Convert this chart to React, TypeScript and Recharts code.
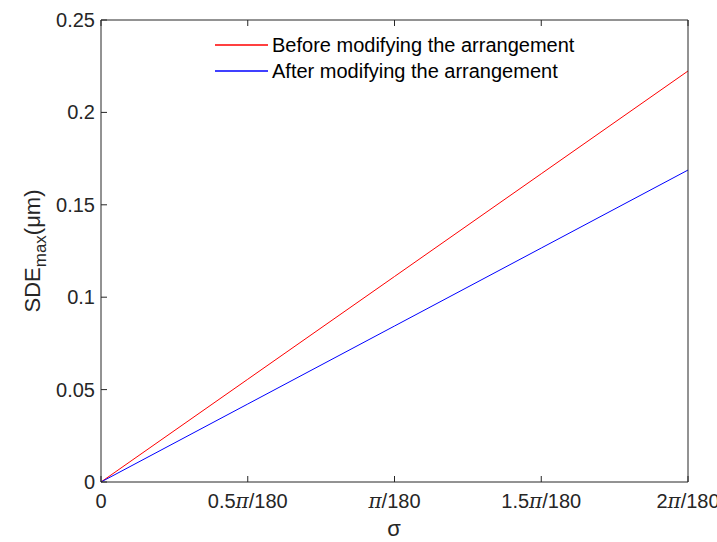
import { LineChart, Line, XAxis, YAxis } from 'recharts';

// sigma in units of pi/180
const sigma = [0, 0.5, 1, 1.5, 2];
const before = [0, 0.0556, 0.1112, 0.1668, 0.2224];
const after = [0, 0.0422, 0.0844, 0.1266, 0.1688];
const xTicks = [0, 0.5, 1, 1.5, 2];
const xTickLabels = ['0', '0.5π/180', 'π/180', '1.5π/180', '2π/180'];
const yTicks = [0, 0.05, 0.1, 0.15, 0.2, 0.25];
const yTickLabels = ['0', '0.05', '0.1', '0.15', '0.2', '0.25'];
const seriesNames = ['Before modifying the arrangement', 'After modifying the arrangement'];
const seriesColors = ['#ff0000', '#0000ff'];

const data = sigma.map((s, i) => ({ s, before: before[i], after: after[i] }));

const FONT = '"Liberation Sans", Arial, sans-serif';
const TICK = 6;

const splitPi = (label: string) => {
  const i = label.indexOf('π');
  if (i < 0) return <tspan>{label}</tspan>;
  return (
    <>
      <tspan>{label.slice(0, i)}</tspan>
      <tspan fontFamily='"DejaVu Serif", serif' fontStyle="italic">π</tspan>
      <tspan>{label.slice(i + 1)}</tspan>
    </>
  );
};

const BottomTick = (props: any) => {
  const { x, y, payload } = props;
  const idx = xTicks.indexOf(payload.value);
  return (
    <g>
      <line x1={x} y1={y} x2={x} y2={y - TICK} stroke="#262626" />
      <text x={x} y={y + 26} textAnchor="middle" fontSize={20} fontFamily={FONT} fill="#262626">
        {splitPi(xTickLabels[idx] ?? '')}
      </text>
    </g>
  );
};

const TopTick = (props: any) => {
  const { x, y } = props;
  return <line x1={x} y1={y} x2={x} y2={y + TICK} stroke="#262626" />;
};

const LeftTick = (props: any) => {
  const { x, y, payload } = props;
  const idx = yTicks.findIndex((t) => Math.abs(t - payload.value) < 1e-9);
  return (
    <g>
      <line x1={x} y1={y} x2={x + TICK} y2={y} stroke="#262626" />
      <text x={x - 6} y={y + 7} textAnchor="end" fontSize={20} fontFamily={FONT} fill="#262626">
        {yTickLabels[idx]}
      </text>
    </g>
  );
};

const RightTick = (props: any) => {
  const { x, y } = props;
  return <line x1={x} y1={y} x2={x - TICK} y2={y} stroke="#262626" />;
};

// legend drawn in the chart svg, MATLAB style (no box)
const LegendSvg = () => (
  <g className="legend">
    {seriesNames.map((name, i) => {
      const cy = 45 + i * 26;
      return (
        <g key={name}>
          <line x1={215} y1={cy} x2={268} y2={cy} stroke={seriesColors[i]} strokeWidth={1.3} />
          <text x={272} y={cy + 7} fontSize={20} fontFamily={FONT} fill="#000">
            {name}
          </text>
        </g>
      );
    })}
  </g>
);

const App = () => (
  <div style={{ position: 'absolute', left: 0, top: 0, background: '#fff' }}>
    <LineChart width={717} height={542} data={data} margin={{ top: 0, right: 0, bottom: 0, left: 0 }}>
      <XAxis
        dataKey="s"
        type="number"
        domain={[0, 2]}
        ticks={xTicks}
        height={60}
        tickSize={0}
        tickMargin={0}
        tickLine={false}
        axisLine={{ stroke: '#262626' }}
        tick={<BottomTick />}
        label={{
          content: () => (
            <text x={394} y={536} textAnchor="middle" fontSize={22} fontFamily={FONT} fill="#262626">
              σ
            </text>
          ),
        }}
      />
      <XAxis
        xAxisId="top"
        orientation="top"
        dataKey="s"
        type="number"
        domain={[0, 2]}
        ticks={xTicks}
        height={20}
        tickSize={0}
        tickMargin={0}
        tickLine={false}
        axisLine={{ stroke: '#262626' }}
        tick={<TopTick />}
      />
      <YAxis
        type="number"
        domain={[0, 0.25]}
        ticks={yTicks}
        width={101}
        tickSize={0}
        tickMargin={0}
        tickLine={false}
        axisLine={{ stroke: '#262626' }}
        tick={<LeftTick />}
        label={{
          content: () => (
            <text
              x={40}
              y={251}
              transform="rotate(-90, 40, 251)"
              textAnchor="middle"
              fontSize={22}
              fontFamily={FONT}
              fill="#262626"
            >
              <tspan>SDE</tspan>
              <tspan fontSize={17} dy={6}>max</tspan>
              <tspan dy={-6}>(μm)</tspan>
            </text>
          ),
        }}
      />
      <YAxis
        yAxisId="right"
        orientation="right"
        type="number"
        domain={[0, 0.25]}
        ticks={yTicks}
        width={29}
        tickSize={0}
        tickMargin={0}
        tickLine={false}
        axisLine={{ stroke: '#262626' }}
        tick={<RightTick />}
      />
      <Line dataKey="before" name={seriesNames[0]} stroke={seriesColors[0]} strokeWidth={1} dot={false} isAnimationActive={false} />
      <Line dataKey="after" name={seriesNames[1]} stroke={seriesColors[1]} strokeWidth={1} dot={false} isAnimationActive={false} />
      <LegendSvg />
    </LineChart>
  </div>
);

export default App;
